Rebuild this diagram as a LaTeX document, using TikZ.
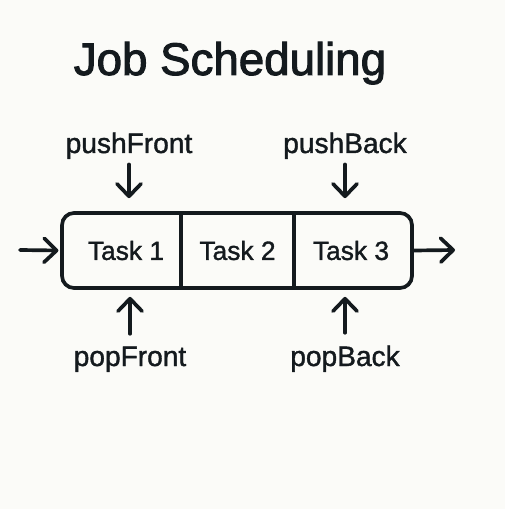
\documentclass[tikz,border=0pt]{standalone}
\usepackage{fontspec}
\setmainfont{Liberation Sans}
\newfontfamily\medfont{Liberation Sans}[FakeBold=1.3]
\newfontfamily\headfont{Liberation Sans}[FakeBold=2.2]
\usetikzlibrary{arrows.meta}
\definecolor{ink}{HTML}{141A1E}
\definecolor{paper}{HTML}{FBFBF8}
\tikzset{flow/.style={ink,line width=2.1pt,line cap=round,-{Straight Barb[length=2.5mm,width=4.8mm,line cap=round,line join=round]}},
  lbl/.style={ink,anchor=base,inner sep=2pt,font=\medfont\fontsize{16}{19}\selectfont},
  task/.style={ink,font=\medfont\fontsize{15}{18}\selectfont}}

\begin{document}
\begin{tikzpicture}[x=0.02cm,y=-0.02cm]
\fill[paper] (0,0) rectangle (505,509);
\node[ink,anchor=base,font=\headfont\fontsize{26}{31}\selectfont] (title) at (230,75) {Job Scheduling};
% the queue
\node[draw=ink,line width=2.1pt,rounded corners=2.4mm,minimum width=7cm,minimum height=1.5cm] (queue) at (237,250.5) {};
\coordinate (d1) at (181,250);
\coordinate (d2) at (294,250);
\draw[ink,line width=2.1pt] (d1 |- queue.north) -- (d1 |- queue.south);
\draw[ink,line width=2.1pt] (d2 |- queue.north) -- (d2 |- queue.south);
\node[task] (task1) at (126,250.5) {Task 1};
\node[task] (task2) at (237.5,250.5) {Task 2};
\node[task] (task3) at (351,250.5) {Task 3};
% operations
\node[lbl] (pushFront) at (129,153) {pushFront};
\node[lbl] (pushBack) at (345,153) {pushBack};
\node[lbl] (popFront) at (130,366) {popFront};
\node[lbl] (popBack) at (345,366) {popBack};
\draw[flow,shorten <=1pt,shorten >=2.6mm] (pushFront) -- (pushFront |- queue.north);
\draw[flow,shorten <=1pt,shorten >=2.6mm] (pushBack) -- (pushBack |- queue.north);
\draw[flow,shorten <=1.8mm,shorten >=1.4mm] (popFront) -- (popFront |- queue.south);
\draw[flow,shorten <=1.8mm,shorten >=1.4mm] (popBack) -- (popBack |- queue.south);
% in and out
\coordinate (inEnd) at (20,250);
\coordinate (outEnd) at (455,250);
\draw[flow] (inEnd) -- ([xshift=-1pt]queue.west);
\draw[flow] (queue.east) -- (outEnd);
\end{tikzpicture}
\end{document}
